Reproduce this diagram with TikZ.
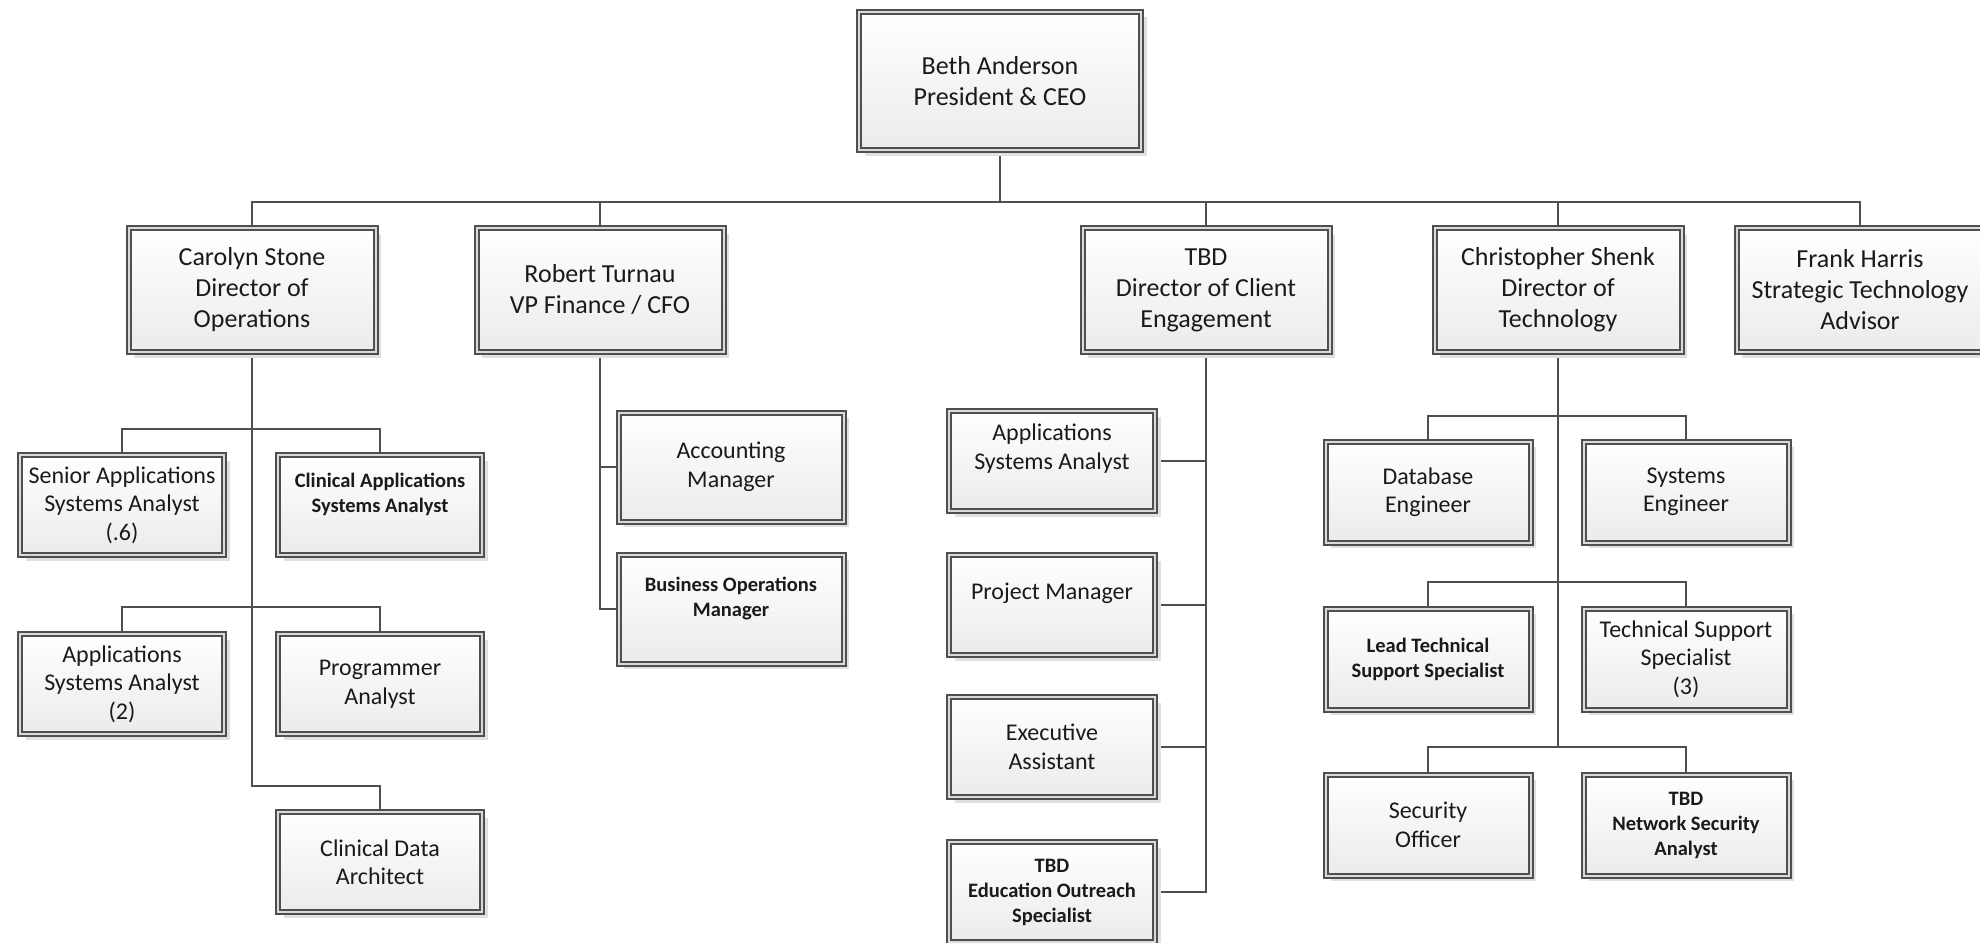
\documentclass[tikz,border=0pt]{standalone}
\usepackage{fontspec}
\setmainfont{Carlito}
\usetikzlibrary{shadows,backgrounds}
\definecolor{linec}{HTML}{4F4F4F}
\definecolor{gapc}{HTML}{DADADA}
\definecolor{botc}{HTML}{EBEBEB}
\definecolor{txtc}{HTML}{1A1A1A}
\tikzset{
  box/.style={rectangle, draw=linec, line width=2pt, double=gapc, double distance=2pt,
    top color=white, bottom color=botc, inner sep=0pt, align=center, text=txtc,
    general shadow={fill=black!12, shadow xshift=5.5pt, shadow yshift=-5.5pt}},
  big/.style={box, font=\fontsize{26}{31}\selectfont},
  mid/.style={box, font=\fontsize{24}{28.5}\selectfont},
  sml/.style={box, font=\bfseries\fontsize{20.5}{25}\selectfont},
  topsz/.style={minimum width=282pt, minimum height=138pt},
  lvlsz/.style={minimum width=247pt, minimum height=124pt},
  opsz/.style={minimum width=204pt, minimum height=100pt},
  finsz/.style={minimum width=225pt, minimum height=109pt},
  cesz/.style={minimum width=206pt, minimum height=100pt},
  tecsz/.style={minimum width=205pt, minimum height=101pt},
  conn/.style={draw=linec, line width=2pt},
}
\begin{document}
\begin{tikzpicture}[x=1pt,y=-1pt]
\useasboundingbox (0,0) rectangle (1980,942);
% top
\node[big, topsz] (beth) at (1000,81) {Beth Anderson\\President \& CEO};
% level 1
\node[big, lvlsz] (carolyn) at (252,290) {Carolyn Stone\\Director of\\Operations};
\node[big, lvlsz] (robert) at (600,290) {Robert Turnau\\VP Finance / CFO};
\node[big, lvlsz] (tbd) at (1206,290) {TBD\\Director of Client\\Engagement};
\node[big, lvlsz] (chris) at (1558,290) {Christopher Shenk\\Director of\\Technology};
\node[big, lvlsz] (frank) at (1860,290) {Frank Harris\\Strategic Technology\\Advisor};
% operations
\node[mid, opsz] (senior) at (122,505) {Senior Applications\\Systems Analyst\\(.6)};
\node[sml, opsz] (clinapp) at (380,505) {Clinical Applications\\Systems Analyst\\\mbox{}};
\node[mid, opsz] (appsys2) at (122,684) {Applications\\Systems Analyst\\(2)};
\node[mid, opsz] (programmer) at (380,684) {Programmer\\Analyst};
\node[mid, opsz] (cdata) at (380,862) {Clinical Data\\Architect};
% finance
\node[mid, finsz] (acct) at (731,467) {Accounting\\Manager};
\node[sml, finsz] (busop) at (731,609) {Business Operations\\Manager\\\mbox{}};
% client engagement
\node[mid, cesz] (appsys) at (1052,461) {Applications\\Systems Analyst\\\mbox{}};
\node[mid, cesz] (pm) at (1052,605) {Project Manager\\\mbox{}};
\node[mid, cesz] (exec) at (1052,747) {Executive\\Assistant};
\node[sml, cesz] (edu) at (1052,892) {TBD\\Education Outreach\\Specialist};
% technology
\node[mid, tecsz] (dbeng) at (1428,492) {Database\\Engineer};
\node[mid, tecsz] (syseng) at (1686,492) {Systems\\Engineer};
\node[sml, tecsz] (leadtech) at (1428,659) {Lead Technical\\Support Specialist};
\node[mid, tecsz] (techsup) at (1686,659) {Technical Support\\Specialist\\(3)};
\node[mid, tecsz] (secoff) at (1428,825) {Security\\Officer};
\node[sml, tecsz] (netsec) at (1686,825) {TBD\\Network Security\\Analyst};
% connectors
\begin{scope}[on background layer]
\coordinate (bus0) at (0,202);
\coordinate (obusA) at (0,429);
\coordinate (obusB) at (0,607);
\coordinate (obusC) at (0,786);
\coordinate (tbusA) at (0,416);
\coordinate (tbusB) at (0,582);
\coordinate (tbusC) at (0,747);
\draw[conn] (beth.south) -- (beth.south |- bus0);
\draw[conn] (carolyn.north) -- (carolyn.north |- bus0) -- (frank.north |- bus0) -- (frank.north);
\draw[conn] (robert.north) -- (robert.north |- bus0);
\draw[conn] (tbd.north) -- (tbd.north |- bus0);
\draw[conn] (chris.north) -- (chris.north |- bus0);
% operations
\draw[conn] (carolyn.south) -- (carolyn.south |- obusC) -- (cdata.north |- obusC) -- (cdata.north);
\draw[conn] (senior.north) -- (senior.north |- obusA) -- (clinapp.north |- obusA) -- (clinapp.north);
\draw[conn] (appsys2.north) -- (appsys2.north |- obusB) -- (programmer.north |- obusB) -- (programmer.north);
% finance
\draw[conn] (robert.south) -- (robert.south |- busop.west) -- (busop.west);
\draw[conn] (acct.west) -- (acct.west -| robert.south);
% client engagement
\draw[conn] (tbd.south) -- (tbd.south |- edu.east) -- (edu.east);
\draw[conn] (appsys.east) -- (appsys.east -| tbd.south);
\draw[conn] (pm.east) -- (pm.east -| tbd.south);
\draw[conn] (exec.east) -- (exec.east -| tbd.south);
% technology
\draw[conn] (chris.south) -- (chris.south |- tbusC);
\draw[conn] (dbeng.north) -- (dbeng.north |- tbusA) -- (syseng.north |- tbusA) -- (syseng.north);
\draw[conn] (leadtech.north) -- (leadtech.north |- tbusB) -- (techsup.north |- tbusB) -- (techsup.north);
\draw[conn] (secoff.north) -- (secoff.north |- tbusC) -- (netsec.north |- tbusC) -- (netsec.north);
\end{scope}
\end{tikzpicture}
\end{document}
